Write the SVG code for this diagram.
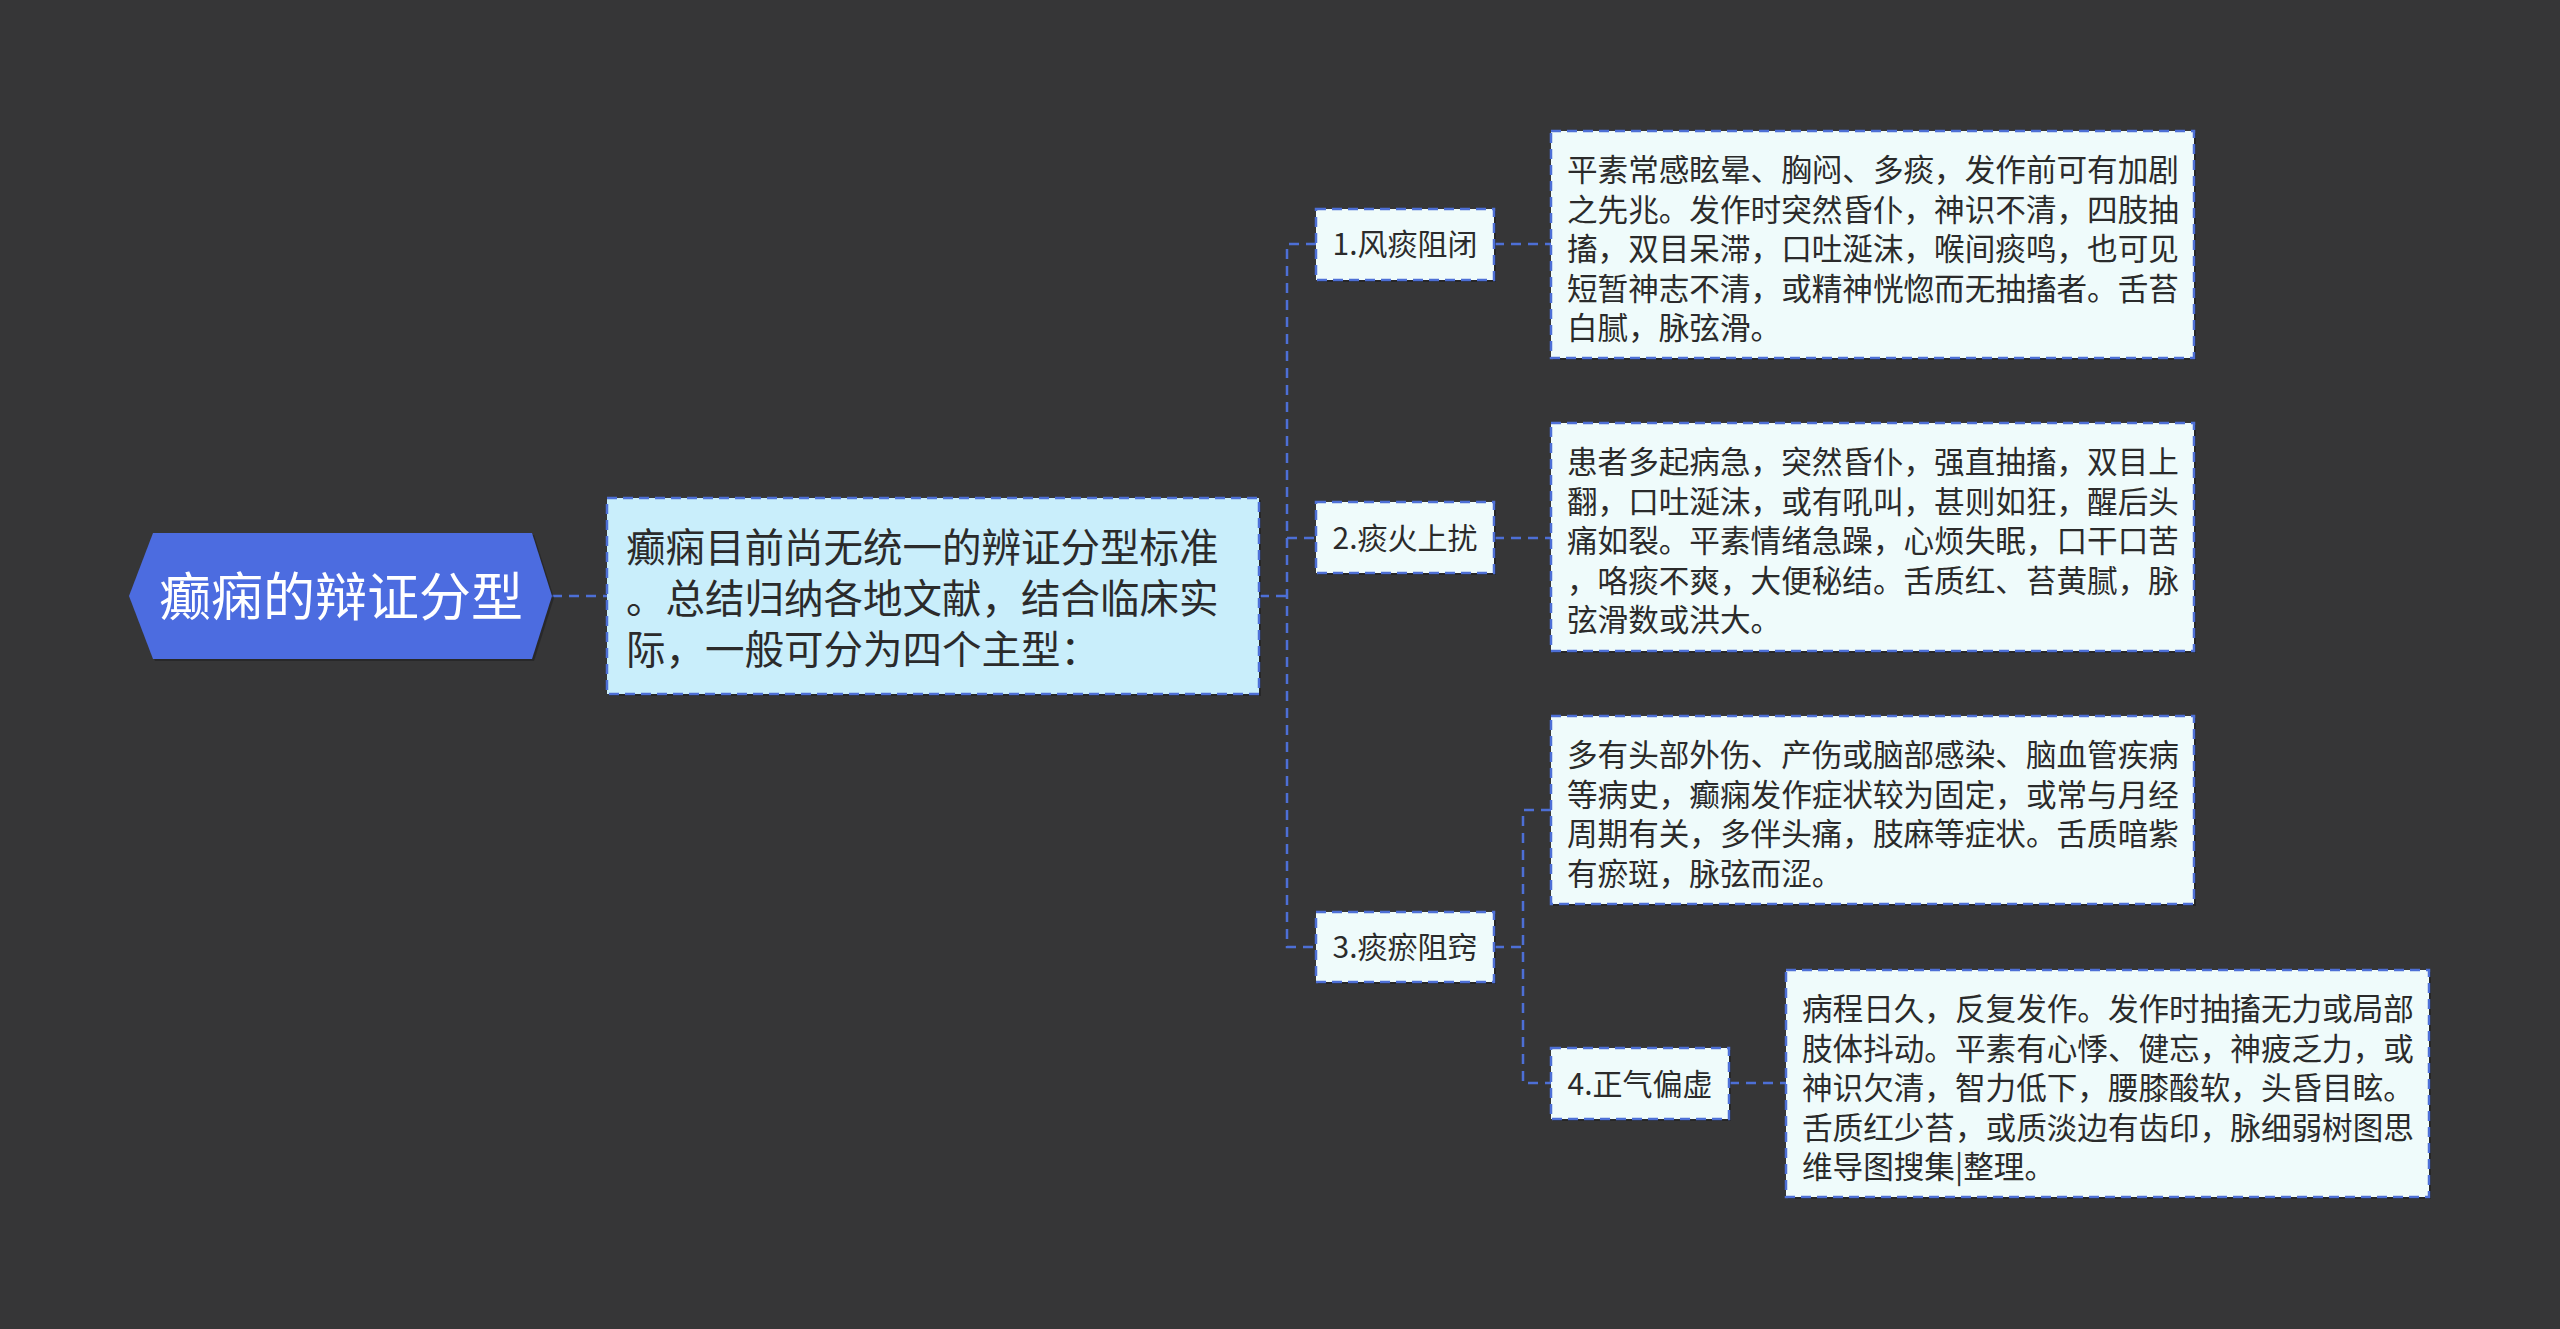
<svg xmlns="http://www.w3.org/2000/svg" width="2560" height="1329" viewBox="0 0 2560 1329">
<style>
text{font-family:"Noto Sans CJK SC","Noto Sans",sans-serif;fill:#2b2b2b}
.root{fill:#ffffff;font-size:52px}
.main{font-size:39.5px}
.d{font-size:30.6px}
.lbl{font-size:30px;text-anchor:middle}
.box{stroke:#4d6fd6;stroke-width:2.5;stroke-dasharray:10 6}
.desc{fill:#effbfb}
.shadow{fill:#1e1e1e;opacity:0.6}
.conn{fill:none;stroke:#4d6fd6;stroke-width:2.5;stroke-dasharray:10 7}
</style>
<rect x="0" y="0" width="2560" height="1329" fill="#363637"/>
<g id="connectors">
<path class="conn" d="M552,596 H607" stroke-dasharray="38 8"/>
<path class="conn" d="M1259,596 H1287"/>
<path class="conn" d="M1316,244 H1287 V947 H1316"/>
<path class="conn" d="M1287,538 H1316"/>
<path class="conn" d="M1494,244 H1551"/>
<path class="conn" d="M1494,538 H1551"/>
<path class="conn" d="M1494,947 H1523"/>
<path class="conn" d="M1551,810 H1523 V1083 H1551"/>
<path class="conn" d="M1729,1083 H1786"/>
</g>
<g id="root">
<polygon points="131,598 155,535 534,535 554,598 534,661 155,661" fill="#1f1f1f" opacity="0.6"/>
<polygon points="129,596 153,533 532,533 552,596 532,659 153,659" fill="#4c6ce0"/>
<text class="root" x="341" y="616" text-anchor="middle">癫痫的辩证分型</text>
</g>
<g id="main">
<rect class="shadow" x="609" y="500" width="652" height="196"/>
<rect class="box" x="607" y="498" width="652" height="196" fill="#c9eefb"/>
<text class="main" x="626" y="562">癫痫目前尚无统一的辨证分型标准</text>
<text class="main" x="626" y="613">。总结归纳各地文献，结合临床实</text>
<text class="main" x="626" y="664">际，一般可分为四个主型：</text>
</g>
<g id="n1">
<rect class="shadow" x="1318" y="211" width="178" height="71"/>
<rect class="box desc" x="1316" y="209" width="178" height="71"/>
<text class="lbl" x="1405" y="255">1.风痰阻闭</text>
</g>
<g id="n2">
<rect class="shadow" x="1318" y="504" width="178" height="71"/>
<rect class="box desc" x="1316" y="502" width="178" height="71"/>
<text class="lbl" x="1405" y="549">2.痰火上扰</text>
</g>
<g id="n3">
<rect class="shadow" x="1318" y="914" width="178" height="70"/>
<rect class="box desc" x="1316" y="912" width="178" height="70"/>
<text class="lbl" x="1405" y="958">3.痰瘀阻窍</text>
</g>
<g id="n4">
<rect class="shadow" x="1553" y="1050" width="178" height="71"/>
<rect class="box desc" x="1551" y="1048" width="178" height="71"/>
<text class="lbl" x="1640" y="1095">4.正气偏虚</text>
</g>
<g id="d1">
<rect class="shadow" x="1553" y="133" width="643" height="227"/>
<rect class="box desc" x="1551" y="131" width="643" height="227"/>
<text class="d" x="1567" y="181">平素常感眩晕、胸闷、多痰，发作前可有加剧</text>
<text class="d" x="1567" y="220.5">之先兆。发作时突然昏仆，神识不清，四肢抽</text>
<text class="d" x="1567" y="260">搐，双目呆滞，口吐涎沫，喉间痰鸣，也可见</text>
<text class="d" x="1567" y="299.5">短暂神志不清，或精神恍惚而无抽搐者。舌苔</text>
<text class="d" x="1567" y="339">白腻，脉弦滑。</text>
</g>
<g id="d2">
<rect class="shadow" x="1553" y="425" width="643" height="228"/>
<rect class="box desc" x="1551" y="423" width="643" height="228"/>
<text class="d" x="1567" y="473">患者多起病急，突然昏仆，强直抽搐，双目上</text>
<text class="d" x="1567" y="512.5">翻，口吐涎沫，或有吼叫，甚则如狂，醒后头</text>
<text class="d" x="1567" y="552">痛如裂。平素情绪急躁，心烦失眠，口干口苦</text>
<text class="d" x="1567" y="591.5">，咯痰不爽，大便秘结。舌质红、苔黄腻，脉</text>
<text class="d" x="1567" y="631">弦滑数或洪大。</text>
</g>
<g id="d3">
<rect class="shadow" x="1553" y="718" width="643" height="188"/>
<rect class="box desc" x="1551" y="716" width="643" height="188"/>
<text class="d" x="1567" y="766">多有头部外伤、产伤或脑部感染、脑血管疾病</text>
<text class="d" x="1567" y="805.5">等病史，癫痫发作症状较为固定，或常与月经</text>
<text class="d" x="1567" y="845">周期有关，多伴头痛，肢麻等症状。舌质暗紫</text>
<text class="d" x="1567" y="884.5">有瘀斑，脉弦而涩。</text>
</g>
<g id="d4">
<rect class="shadow" x="1788" y="972" width="643" height="227"/>
<rect class="box desc" x="1786" y="970" width="643" height="227"/>
<text class="d" x="1802" y="1020">病程日久，反复发作。发作时抽搐无力或局部</text>
<text class="d" x="1802" y="1059.5">肢体抖动。平素有心悸、健忘，神疲乏力，或</text>
<text class="d" x="1802" y="1099">神识欠清，智力低下，腰膝酸软，头昏目眩。</text>
<text class="d" x="1802" y="1138.5">舌质红少苔，或质淡边有齿印，脉细弱树图思</text>
<text class="d" x="1802" y="1178">维导图搜集|整理。</text>
</g>
</svg>
